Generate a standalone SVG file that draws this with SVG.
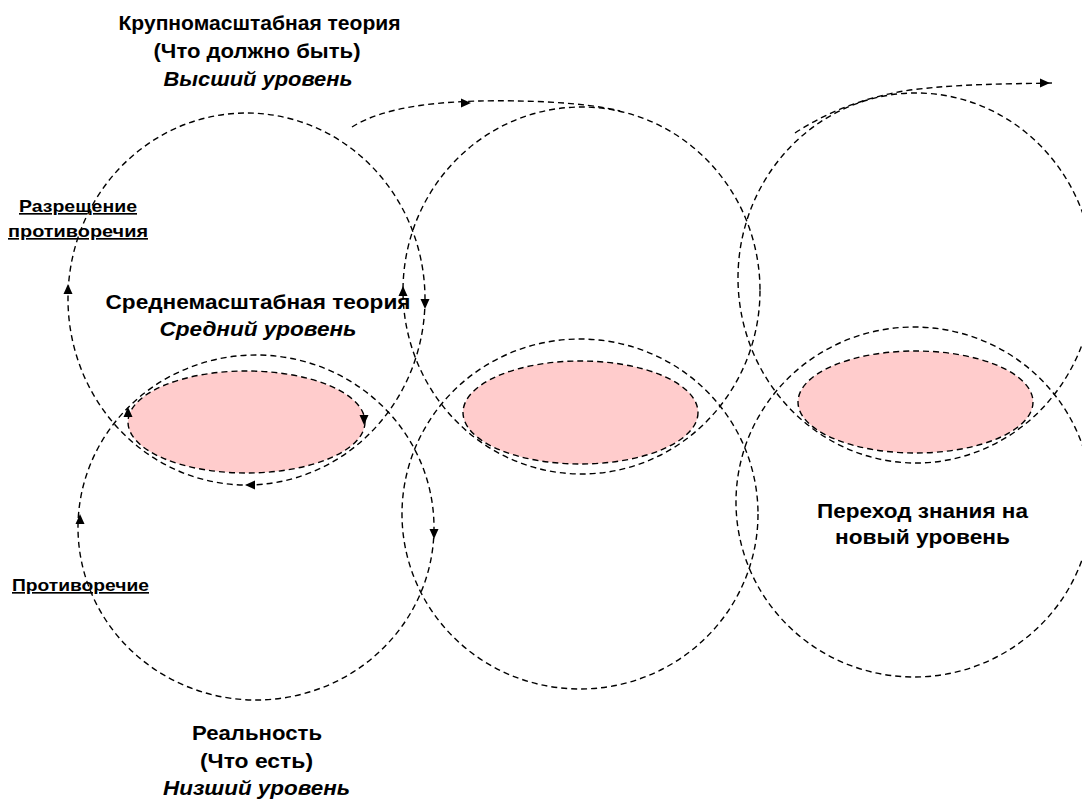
<svg xmlns="http://www.w3.org/2000/svg" xmlns:xlink="http://www.w3.org/1999/xlink" width="1082" height="802" viewBox="0 0 1082 802">
  <style>
    .dash { fill: none; stroke: #000; stroke-width: 1.4; stroke-dasharray: 6 4; }
    .field { fill: #FFCCCC; stroke: #000; stroke-width: 1.4; stroke-dasharray: 6 4; }
    .t { font-family: "Liberation Sans", Arial, sans-serif; font-weight: bold; fill: #000; text-anchor: middle; }
    .big { font-size: 21px; }
    .small { font-size: 16.5px; text-decoration: underline; }
    .it { font-style: italic; }
  </style>
  <defs>
    <path id="ah" d="M0,0 L-10,-4.5 L-10,4.5 Z" fill="#000"/>
  </defs>
  <rect width="1082" height="802" fill="#fff"/>

  <!-- shared knowledge zones between levels -->
  <g id="fields">
    <ellipse id="field-1" class="field" cx="246.5" cy="422" rx="118.5" ry="51"/>
    <ellipse id="field-2" class="field" cx="580.5" cy="412.5" rx="117.5" ry="51.5"/>
    <ellipse id="field-3" class="field" cx="915.5" cy="402" rx="117.5" ry="51"/>
  </g>

  <!-- theory and reality cycles -->
  <g id="connectors">
    <ellipse id="upper-1" class="dash" cx="246.5" cy="299" rx="178.5" ry="186"/>
    <ellipse id="upper-2" class="dash" cx="581.5" cy="290.5" rx="178.5" ry="183.5"/>
    <ellipse id="upper-3" class="dash" cx="916" cy="278" rx="178" ry="185"/>
    <ellipse id="lower-1" class="dash" cx="256" cy="527.5" rx="178" ry="172.5"/>
    <ellipse id="lower-2" class="dash" cx="580" cy="514" rx="178" ry="175"/>
    <ellipse id="lower-3" class="dash" cx="914" cy="502" rx="178" ry="175"/>
    <path id="step-1" class="dash" d="M352,127 C385,106 440,102 480,101 S585,102 620,111"/>
    <path id="step-2" class="dash" d="M795,133 C830,110 870,96 910,90 C960,84 1000,84 1056,83"/>

    <use xlink:href="#ah" transform="translate(471,103)"/>
    <use xlink:href="#ah" transform="translate(1050,83)"/>
    <use xlink:href="#ah" transform="translate(68,284) rotate(-90)"/>
    <use xlink:href="#ah" transform="translate(425,309) rotate(90)"/>
    <use xlink:href="#ah" transform="translate(403,286) rotate(-90)"/>
    <use xlink:href="#ah" transform="translate(128,407) rotate(-90)"/>
    <use xlink:href="#ah" transform="translate(364,425) rotate(90)"/>
    <use xlink:href="#ah" transform="translate(245,485) rotate(180)"/>
    <use xlink:href="#ah" transform="translate(80,514) rotate(-90)"/>
    <use xlink:href="#ah" transform="translate(434,539) rotate(90)"/>
  </g>

  <g id="label-high">
    <text class="t big" x="259.5" y="30" textLength="282" lengthAdjust="spacingAndGlyphs">Крупномасштабная теория</text>
    <text class="t big" x="257" y="58" textLength="207" lengthAdjust="spacingAndGlyphs">(Что должно быть)</text>
    <text class="t big it" x="258" y="86" textLength="189" lengthAdjust="spacingAndGlyphs">Высший уровень</text>
  </g>
  <g id="label-middle">
    <text class="t big" x="258" y="309" textLength="305" lengthAdjust="spacingAndGlyphs">Среднемасштабная теория</text>
    <text class="t big it" x="258" y="336" textLength="197" lengthAdjust="spacingAndGlyphs">Средний уровень</text>
  </g>
  <g id="label-resolution">
    <text class="t small" x="78" y="212" textLength="118" lengthAdjust="spacingAndGlyphs">Разрещение</text>
    <text class="t small" x="78" y="237" textLength="140" lengthAdjust="spacingAndGlyphs"> противоречия</text>
  </g>
  <g id="label-contradiction">
    <text class="t small" x="80.5" y="591" textLength="137" lengthAdjust="spacingAndGlyphs">Противоречие</text>
  </g>
  <g id="label-transition">
    <text class="t big" x="922.5" y="518" textLength="211" lengthAdjust="spacingAndGlyphs">Переход знания на</text>
    <text class="t big" x="922.5" y="544" textLength="175" lengthAdjust="spacingAndGlyphs">новый уровень</text>
  </g>
  <g id="label-low">
    <text class="t big" x="257" y="740" textLength="130" lengthAdjust="spacingAndGlyphs">Реальность</text>
    <text class="t big" x="256.5" y="768" textLength="113" lengthAdjust="spacingAndGlyphs">(Что есть)</text>
    <text class="t big it" x="256.5" y="795" textLength="187" lengthAdjust="spacingAndGlyphs">Низший уровень</text>
  </g>
</svg>
